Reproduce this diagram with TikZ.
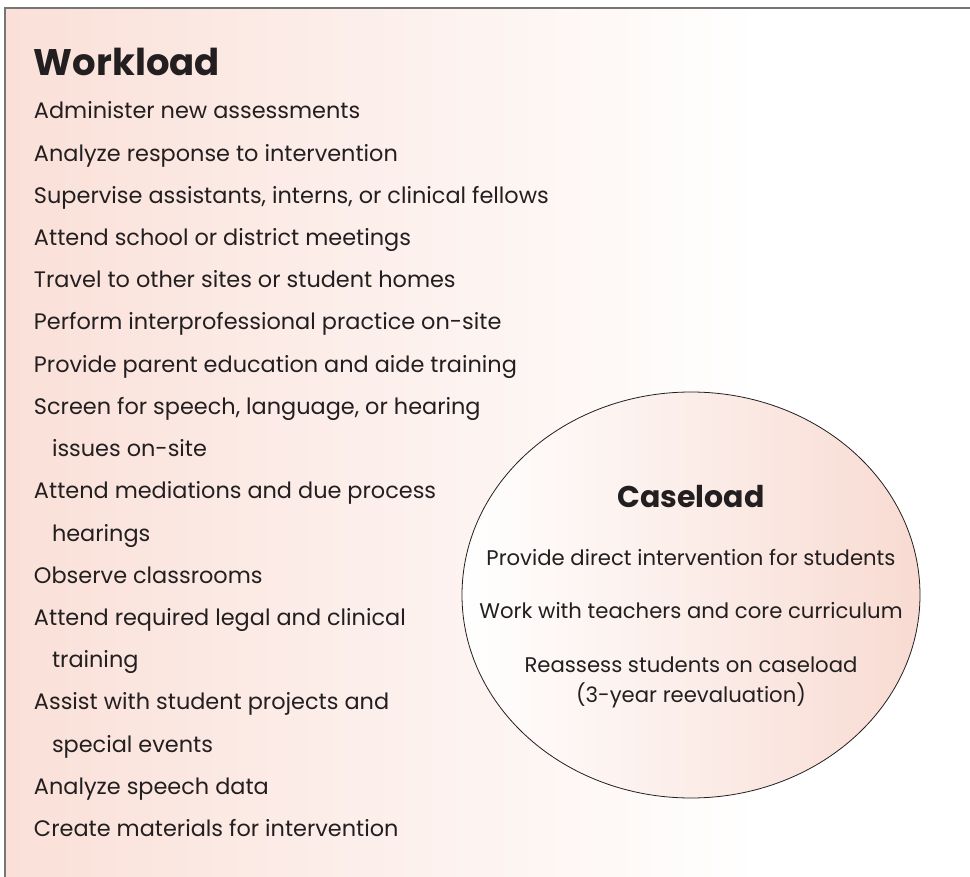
\documentclass[tikz,border=0pt]{standalone}
\usepackage{fontspec}
\setmainfont{Poppins}
\usetikzlibrary{positioning,shapes.geometric}
\definecolor{pinkbg}{RGB}{250,224,216}
\definecolor{pinkcase}{RGB}{248,219,210}
\definecolor{framegray}{RGB}{118,118,118}
\definecolor{inkgray}{RGB}{35,31,32}
\newcommand{\contin}{\hspace*{18pt}}

\begin{document}
\begin{tikzpicture}[x=1pt,y=-1pt,node distance=0pt,
	every node/.style={inner sep=0pt,outer sep=0pt,text=inkgray},
	item/.style={font=\fontsize{22.4}{26}\selectfont,text height=30pt,text depth=12.2pt},
	title/.style={font=\fontsize{37}{42}\selectfont\bfseries},
	caseitem/.style={font=\fontsize{21.2}{25}\selectfont}]
	\useasboundingbox (0,0) rectangle (970,877);
	\clip (0,0) rectangle (970,877);
	\fill[left color=pinkbg,right color=white] (5,8) rectangle (760,890);
	\draw[framegray,line width=2.5pt] (5,8) rectangle (990,900);

	\node (WL) [title,anchor=base west] at (34,76) {Workload};
	\node (A)  [item,anchor=base west]  at (34,119) {Administer new assessments};
	\node (B)  [item,below=of A.south west,anchor=north west] {Analyze response to intervention};
	\node (C)  [item,below=of B.south west,anchor=north west] {Supervise assistants, interns, or clinical fellows};
	\node (D)  [item,below=of C.south west,anchor=north west] {Attend school or district meetings};
	\node (E)  [item,below=of D.south west,anchor=north west] {Travel to other sites or student homes};
	\node (F)  [item,below=of E.south west,anchor=north west] {Perform interprofessional practice on-site};
	\node (G)  [item,below=of F.south west,anchor=north west] {Provide parent education and aide training};
	\node (H)  [item,below=of G.south west,anchor=north west] {Screen for speech, language, or hearing};
	\node (H2) [item,below=of H.south west,anchor=north west] {\contin issues on-site};
	\node (I)  [item,below=of H2.south west,anchor=north west] {Attend mediations and due process};
	\node (I2) [item,below=of I.south west,anchor=north west] {\contin hearings};
	\node (J)  [item,below=of I2.south west,anchor=north west] {Observe classrooms};
	\node (K)  [item,below=of J.south west,anchor=north west] {Attend required legal and clinical};
	\node (K2) [item,below=of K.south west,anchor=north west] {\contin training};
	\node (L)  [item,below=of K2.south west,anchor=north west] {Assist with student projects and};
	\node (L2) [item,below=of L.south west,anchor=north west] {\contin special events};
	\node (M)  [item,below=of L2.south west,anchor=north west] {Analyze speech data};
	\node (N)  [item,below=of M.south west,anchor=north west] {Create materials for intervention};

	\node (CL) [ellipse,draw=inkgray,line width=0.8pt,minimum width=458pt,minimum height=406pt,
		left color=white,right color=pinkcase] at (691,595) {};
	\node (CT) [title,font=\fontsize{30}{35}\selectfont\bfseries,anchor=base] at (691,507) {Caseload};
	\node (P)  [caseitem,anchor=base] at (691,565) {Provide direct intervention for students};
	\node (Q)  [caseitem,anchor=base] at (691,618) {Work with teachers and core curriculum};
	\node (R)  [caseitem,anchor=base] at (691,672) {Reassess students on caseload};
	\node (R2) [caseitem,anchor=base] at (691,702) {(3-year reevaluation)};
\end{tikzpicture}
\end{document}
